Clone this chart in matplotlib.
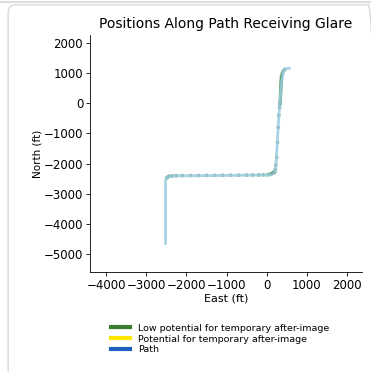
import matplotlib
matplotlib.use("Agg")
import matplotlib.pyplot as plt
from matplotlib.lines import Line2D
from matplotlib.patches import FancyBboxPatch

# Path route (ft)
path_east = [-2520, -2520, -2480, -2400, -2300, 100, 170, 210, 240, 300, 330, 370, 420, 470, 600]
path_north = [-4700, -2550, -2460, -2420, -2410, -2380, -2330, -2250, -1900, -500, 0, 700, 1050, 1150, 1170]

# Positions receiving glare: low potential for temporary after-image
glare_east = [-2490, -2460, -2420, -2350, -2250, -2100, -1900, -1700, -1500, -1300, -1100, -900,
              -700, -500, -350, -200, -80, 30, 90, 120, 150, 170, 185, 200, 215, 230, 250, 270,
              290, 305, 320, 328, 332, 336, 340, 343, 346, 349, 351, 353, 355, 357, 359, 361,
              363, 365, 368, 372, 385, 410, 450]
glare_north = [-2480, -2440, -2420, -2410, -2405, -2400, -2400, -2398, -2395, -2392, -2390, -2388,
               -2386, -2384, -2382, -2380, -2376, -2370, -2355, -2340, -2320, -2305, -2295, -2280,
               -2200, -2050, -1800, -1300, -800, -400, -150, -50, 0, 40, 120, 200, 280, 350, 410,
               470, 530, 580, 630, 680, 730, 780, 840, 900, 980, 1060, 1120]

legend_labels = ["Low potential for temporary after-image",
                 "Potential for temporary after-image",
                 "Path"]
legend_colors = ["#3a7d2c", "#ffe600", "#1f5fbf"]

fig = plt.figure(figsize=(3.71, 3.72), dpi=100)

# screenshot card frame
fig.patches.append(FancyBboxPatch((0.022, -0.05), 0.99, 1.037, boxstyle="round,pad=0,rounding_size=0.02",
                                  transform=fig.transFigure, facecolor="none", edgecolor="#d8d8d8",
                                  linewidth=1.0))
fig.add_artist(Line2D([0, 1], [0.995, 0.995], transform=fig.transFigure, color="#dddddd", lw=1.5))

ax = fig.add_axes([0.243, 0.269, 0.733, 0.637])
ax.plot(path_east, path_north, color="#9ccbe3", lw=2.0, alpha=0.85, solid_capstyle="butt")
ax.scatter(glare_east, glare_north, s=7, color="#2a7f35", alpha=0.6, edgecolors="none")

ax.set_xlim(-4400, 2380)
ax.set_ylim(-5600, 2270)
ax.set_xticks([-4000, -3000, -2000, -1000, 0, 1000, 2000])
ax.set_yticks([2000, 1000, 0, -1000, -2000, -3000, -4000, -5000])
ax.tick_params(labelsize=8.5, length=3, width=0.6, pad=2)
for s in ["top", "right"]:
    ax.spines[s].set_visible(False)
for s in ["left", "bottom"]:
    ax.spines[s].set_linewidth(0.6)
ax.set_xlabel("East (ft)", fontsize=8, labelpad=1)
ax.set_ylabel("North (ft)", fontsize=7.5, labelpad=1)
ax.set_title("Positions Along Path Receiving Glare", fontsize=10, pad=5)

handles = [Line2D([0], [0], color=c, lw=3) for c in legend_colors]
fig.legend(handles, legend_labels, loc="upper left", bbox_to_anchor=(0.29, 0.14),
           frameon=False, fontsize=6.8, handlelength=2.0, handletextpad=0.8,
           labelspacing=0.2, borderaxespad=0)

fig.savefig("out.png", dpi=100)
